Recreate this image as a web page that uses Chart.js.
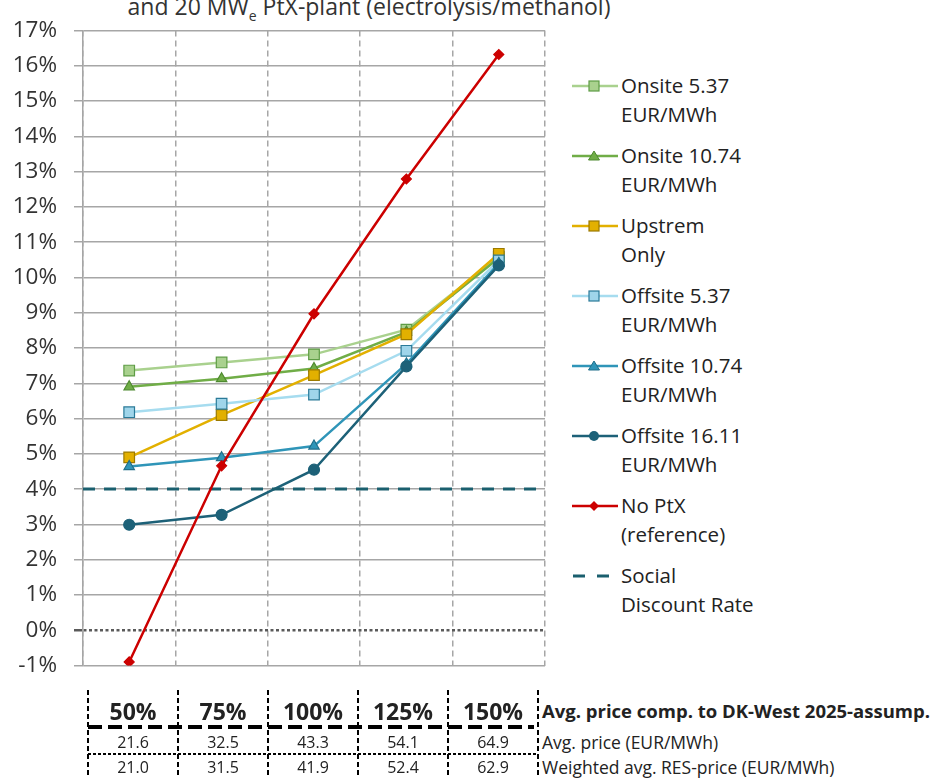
<!DOCTYPE html>
<html lang="en">
<head>
<meta charset="UTF-8" />
<title>Socio-economic return vs. electricity price level</title>
<script src="https://cdn.jsdelivr.net/npm/chart.js"></script>
<style>
  body {
    margin: 0;
    width: 938px;
    height: 778px;
    background: #fff;
    position: relative;
    overflow: hidden;
    font-family: "Open Sans", sans-serif;
    color: #222;
  }
  .title {
    position: absolute;
    left: 0;
    width: 738px;
    top: -5px;
    text-align: center;
    font-size: 23px;
    line-height: 22px;
    white-space: nowrap;
    color: #333;
  }
  .title sub { font-size: 14px; line-height: 0; }
  .chart-box {
    position: absolute;
    left: 0;
    top: 0;
    width: 565px;
    height: 696px;
  }
  #legend { position: absolute; left: 570px; top: 71px; }
  .item { position: relative; height: 70px; width: 300px; }
  .item svg { position: absolute; left: 0; top: 8px; }
  .item span {
    position: absolute;
    left: 51px;
    top: 0;
    font-size: 20.5px;
    line-height: 29px;
    white-space: nowrap;
  }
  .cell { position: absolute; text-align: center; white-space: nowrap; }
  .big { font-weight: bold; font-size: 23px; line-height: 30px; top: 696px; }
  .small { font-size: 16px; line-height: 20px; }
  .rowlabel { position: absolute; left: 542px; white-space: nowrap; font-size: 17.5px; line-height: 20px; }
  .vline {
    position: absolute;
    top: 690px;
    height: 88px;
    width: 1.5px;
    background: repeating-linear-gradient(to bottom, #000 0 5px, transparent 5px 8px);
  }
  .thick {
    position: absolute;
    left: 88px;
    width: 446px;
    top: 725px;
    height: 4px;
    background: repeating-linear-gradient(to right, #000 0 14px, transparent 14px 20px);
  }
  .thin {
    position: absolute;
    left: 88px;
    width: 450px;
    top: 753px;
    height: 1.5px;
    background: repeating-linear-gradient(to right, #000 0 3px, transparent 3px 5px);
  }
</style>
</head>
<body>

  <div class="title">and 20 MW<sub>e</sub> PtX-plant (electrolysis/methanol)</div>

  <div class="chart-box">
    <canvas id="ptxChart"></canvas>
  </div>

  <div id="legend"></div>
  <div id="table"></div>

<script>
  // categories: avg. price compared to DK-West 2025 assumption
  const categories = ['50%', '75%', '100%', '125%', '150%'];

  // series values (%)
  const onsite537 = [7.36, 7.59, 7.82, 8.52, 10.58];
  const onsite1074 = [6.90, 7.13, 7.42, 8.45, 10.55];
  const upstream = [4.90, 6.10, 7.23, 8.39, 10.67];
  const offsite537 = [6.18, 6.42, 6.68, 7.92, 10.48];
  const offsite1074 = [4.64, 4.89, 5.22, 7.55, 10.40];
  const offsite1611 = [2.99, 3.27, 4.55, 7.48, 10.34];
  const noPtx = [-0.90, 4.66, 8.97, 12.79, 16.32];
  const socialRate = 4;

  // table rows under the chart
  const avgPrice = ['21.6', '32.5', '43.3', '54.1', '64.9'];
  const resPrice = ['21.0', '31.5', '41.9', '52.4', '62.9'];

  const yMin = -1;
  const yMax = 17;

  const gridGray = '#a6a6a6';

  const series = [
    { label: ['Onsite 5.37', 'EUR/MWh'], data: onsite537, line: '#a9d18e', fill: '#a9d18e', edge: '#5e9c45', style: 'rect', r: 7.5 },
    { label: ['Onsite 10.74', 'EUR/MWh'], data: onsite1074, line: '#70ad47', fill: '#70ad47', edge: '#4f8a30', style: 'triangle', r: 6 },
    { label: ['Upstrem', 'Only'], data: upstream, line: '#e2b000', fill: '#e2b000', edge: '#9c7a00', style: 'rect', r: 7.5 },
    { label: ['Offsite 5.37', 'EUR/MWh'], data: offsite537, line: '#a6dcef', fill: '#9fd5ea', edge: '#2a7a98', style: 'rect', r: 7.5 },
    { label: ['Offsite 10.74', 'EUR/MWh'], data: offsite1074, line: '#2f95b8', fill: '#2f95b8', edge: '#216f8a', style: 'triangle', r: 6 },
    { label: ['Offsite 16.11', 'EUR/MWh'], data: offsite1611, line: '#1d6178', fill: '#1d6178', edge: '#1d6178', style: 'circle', r: 5.5 },
    { label: ['No PtX', '(reference)'], data: noPtx, line: '#cc0000', fill: '#cc0000', edge: '#cc0000', style: 'rectRot', r: 5 }
  ];

  const datasets = series.map((s, i) => ({
    label: s.label.join(' '),
    data: s.data,
    borderColor: s.line,
    backgroundColor: s.fill,
    pointBackgroundColor: s.fill,
    pointBorderColor: s.edge,
    pointBorderWidth: 1.2,
    pointStyle: s.style,
    pointRadius: s.r,
    borderWidth: 2.5,
    tension: 0,
    order: s.style === 'rectRot' ? 0 : 10 - i
  }));

  datasets.push({
    label: 'Social Discount Rate',
    data: [{ x: 0, y: socialRate }, { x: categories.length, y: socialRate }],
    xAxisID: 'x2',
    borderColor: '#1a5f6e',
    borderWidth: 3,
    borderDash: [12, 9],
    pointRadius: 0,
    order: 1
  });

  const ctx = document.getElementById('ptxChart').getContext('2d');
  new Chart(ctx, {
    type: 'line',
    data: { labels: categories, datasets: datasets },
    options: {
      responsive: true,
      maintainAspectRatio: false,
      animation: false,
      layout: { padding: { top: 27, right: 20, bottom: 1, left: 0 } },
      plugins: { legend: { display: false }, tooltip: { enabled: false } },
      scales: {
        x: {
          offset: true,
          afterFit: scale => { scale.height = 0; },
          ticks: { display: false },
          grid: { offset: true, drawTicks: false, color: gridGray, lineWidth: 1.5 },
          border: { display: false, dash: [6, 4] }
        },
        x2: {
          type: 'linear',
          display: false,
          afterFit: scale => { scale.height = 0; },
          min: 0,
          max: categories.length
        },
        y: {
          min: yMin,
          max: yMax,
          afterFit: scale => { scale.width = 83; },
          ticks: {
            stepSize: 1,
            padding: 17,
            color: '#333',
            font: { family: 'Open Sans', size: 22.5 },
            callback: v => v + '%'
          },
          grid: {
            tickLength: 9,
            color: c => (c.tick && c.tick.value === 0 ? '#5a5a5a' : gridGray),
            lineWidth: c => (c.tick && c.tick.value === 0 ? 2.5 : 1.5)
          },
          border: {
            color: gridGray,
            width: 1.5,
            dash: c => (c.tick && c.tick.value === 0 ? [3, 2.5] : [])
          }
        }
      }
    }
  });

  // legend
  const legend = document.getElementById('legend');
  function markerSvg(s) {
    const c = 24, m = 7;
    let mark = '';
    if (s.style === 'rect') {
      mark = `<rect x="${c - 5}" y="${m - 5}" width="10" height="10" fill="${s.fill}" stroke="${s.edge}" stroke-width="1.2"/>`;
    } else if (s.style === 'triangle') {
      mark = `<polygon points="${c},${m - 5} ${c + 5.5},${m + 4} ${c - 5.5},${m + 4}" fill="${s.fill}" stroke="${s.edge}" stroke-width="1"/>`;
    } else if (s.style === 'circle') {
      mark = `<circle cx="${c}" cy="${m}" r="5" fill="${s.fill}"/>`;
    } else if (s.style === 'rectRot') {
      mark = `<polygon points="${c},${m - 5} ${c + 5},${m} ${c},${m + 5} ${c - 5},${m}" fill="${s.fill}"/>`;
    }
    return `<svg width="50" height="14"><line x1="2" y1="${m}" x2="48" y2="${m}" stroke="${s.line}" stroke-width="2.5"/>${mark}</svg>`;
  }
  series.forEach(s => {
    const div = document.createElement('div');
    div.className = 'item';
    div.innerHTML = markerSvg(s) + `<span>${s.label[0]}<br>${s.label[1]}</span>`;
    legend.appendChild(div);
  });
  const social = document.createElement('div');
  social.className = 'item';
  social.innerHTML = `<svg width="50" height="14"><line x1="3" y1="7" x2="40" y2="7" stroke="#1a5f6e" stroke-width="3" stroke-dasharray="12 12"/></svg><span>Social<br>Discount Rate</span>`;
  legend.appendChild(social);

  // table under the chart
  const table = document.getElementById('table');
  const colLeft = 88, colW = 90;
  let html = '';
  for (let i = 0; i <= categories.length; i++) {
    html += `<div class="vline" style="left:${colLeft + i * colW - 0.75}px"></div>`;
  }
  html += '<div class="thick"></div><div class="thin"></div>';
  categories.forEach((c, i) => {
    const left = colLeft + i * colW;
    html += `<div class="cell big" style="left:${left}px;width:${colW}px">${c}</div>`;
    html += `<div class="cell small" style="left:${left}px;width:${colW}px;top:732px">${avgPrice[i]}</div>`;
    html += `<div class="cell small" style="left:${left}px;width:${colW}px;top:757px">${resPrice[i]}</div>`;
  });
  html += '<div class="rowlabel" style="top:700px;font-weight:bold;font-size:18.5px;line-height:22px">Avg. price comp. to DK-West 2025-assump.</div>';
  html += '<div class="rowlabel" style="top:732px">Avg. price (EUR/MWh)</div>';
  html += '<div class="rowlabel" style="top:757px">Weighted avg. RES-price (EUR/MWh)</div>';
  table.innerHTML = html;
</script>

</body>
</html>
